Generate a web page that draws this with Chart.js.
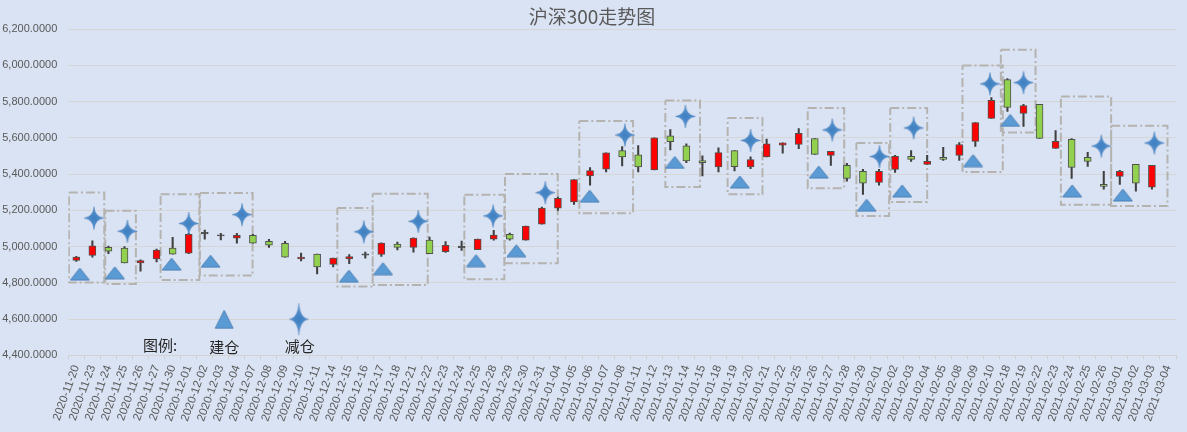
<!DOCTYPE html>
<html><head><meta charset="utf-8">
<script src="https://cdn.jsdelivr.net/npm/chart.js@4.4.0/dist/chart.umd.min.js"></script>
<style>html,body{margin:0;padding:0;background:#dae3f3;}#wrap{width:1187px;height:432px;}</style>
</head><body><div id="wrap"><canvas id="c" width="1187" height="432"></canvas></div>
<script>
const chartTitle = '沪深300走势图';
const dates = ['2020-11-20','2020-11-23','2020-11-24','2020-11-25','2020-11-26','2020-11-27','2020-11-30','2020-12-01','2020-12-02','2020-12-03','2020-12-04','2020-12-07','2020-12-08','2020-12-09','2020-12-10','2020-12-11','2020-12-14','2020-12-15','2020-12-16','2020-12-17','2020-12-18','2020-12-21','2020-12-22','2020-12-23','2020-12-24','2020-12-25','2020-12-28','2020-12-29','2020-12-30','2020-12-31','2021-01-04','2021-01-05','2021-01-06','2021-01-07','2021-01-08','2021-01-11','2021-01-12','2021-01-13','2021-01-14','2021-01-15','2021-01-18','2021-01-19','2021-01-20','2021-01-21','2021-01-22','2021-01-25','2021-01-26','2021-01-27','2021-01-28','2021-01-29','2021-02-01','2021-02-02','2021-02-03','2021-02-04','2021-02-05','2021-02-08','2021-02-09','2021-02-10','2021-02-18','2021-02-19','2021-02-22','2021-02-23','2021-02-24','2021-02-25','2021-02-26','2021-03-01','2021-03-02','2021-03-03','2021-03-04'];
const openP  = [4924,4951,4996,4991,4909,4931,4991,4964,5070,5064,5046,5062,5029,5018,4931,4958,4902,4931,4952,4956,5013,4995,5035,4972,4994,4983,5041,5068,5035,5124,5212,5246,5389,5427,5529,5506,5422,5611,5556,5474,5439,5529,5439,5494,5559,5563,5596,5503,5448,5415,5354,5426,5497,5453,5492,5503,5580,5707,5921,5734,5784,5541,5591,5492,5343,5387,5453,5327,null];
const highP  = [4946,5031,5002,5000,4927,4986,5051,5073,5091,5073,5073,5067,5040,5029,4964,4958,4936,4955,4969,5020,5024,5048,5052,5028,5030,5041,5089,5074,5113,5218,5273,5369,5435,5517,5552,5557,5600,5645,5567,5501,5545,5529,5495,5593,5572,5651,5596,5525,5459,5426,5426,5503,5530,5503,5547,5574,5684,5822,5927,5784,5784,5640,5596,5519,5415,5420,5453,5448,null];
const lowP   = [4918,4942,4960,4909,4864,4915,4958,4960,5040,5036,5018,5018,4995,4942,4920,4849,4887,4906,4936,4946,4982,4969,4961,4967,4978,4983,5035,5035,5035,5124,5199,5233,5338,5412,5445,5412,5422,5533,5462,5389,5412,5417,5429,5494,5515,5540,5508,5448,5360,5288,5338,5409,5470,5453,5475,5475,5552,5707,5745,5662,5596,5541,5376,5442,5316,5343,5305,5316,null];
const closeP = [4942,5004,4975,4909,4922,4980,4958,5067,5078,5058,5062,5018,5007,4942,4942,4887,4936,4944,4960,5019,4995,5046,4961,5007,5002,5041,5063,5041,5113,5212,5266,5369,5419,5517,5495,5439,5600,5578,5472,5462,5518,5440,5480,5567,5572,5624,5508,5525,5376,5349,5415,5497,5481,5470,5481,5563,5684,5806,5767,5778,5596,5580,5437,5470,5332,5415,5349,5448,null];
// 建仓 markers (position on day axis, price)
const buyX = [0.22,2.40,5.94,8.36,16.98,19.10,24.90,27.41,31.98,37.28,41.33,46.25,49.23,51.44,55.86,58.17,62.03,65.19];
const buyY = [4848,4855,4903,4919,4837,4878,4922,4977,5278,5464,5356,5411,5228,5307,5474,5696,5307,5284];
// 减仓 markers
const sellX = [1.10,3.18,7.00,10.32,17.91,21.30,25.96,29.21,34.17,37.94,42.00,47.09,50.03,52.16,56.91,59.00,63.85,67.15];
const sellY = [5157,5084,5127,5176,5081,5139,5169,5297,5615,5718,5585,5643,5496,5654,5897,5904,5554,5571];
// holding-period boxes (day axis range, price range)
const boxLeft   = [-0.46,1.80,5.25,7.70,16.26,18.46,24.17,26.70,31.33,36.69,40.57,45.56,48.59,50.70,55.20,57.59,61.33,64.46];
const boxRight  = [1.74,3.71,7.66,10.98,18.46,21.89,26.66,29.99,34.68,38.85,42.74,47.83,50.63,53.00,57.71,59.75,64.46,67.97];
const boxTop    = [5298,5197,5289,5295,5212,5291,5285,5400,5692,5806,5709,5764,5571,5764,5998,6086,5828,5666];
const boxBottom = [4801,4794,4816,4840,4779,4788,4820,4908,5184,5328,5289,5322,5169,5245,5411,5629,5230,5224];
// legend sample markers
const legendLabels = ['图例:','建仓','减仓'];
const legendX = [5.21,9.21,13.86];
const legendY = [4598,4598,4599];
const yMin = 4400, yMax = 6200, yStep = 200;

function makeTri(w,h){
  const c=document.createElement('canvas'); c.width=w+2; c.height=h+2;
  const g=c.getContext('2d');
  g.beginPath(); g.moveTo(1+w/2,1); g.lineTo(1+w,1+h); g.lineTo(1,1+h); g.closePath();
  g.fillStyle='#5b9bd5'; g.fill(); g.lineWidth=1; g.strokeStyle='#4a7fb5'; g.stroke();
  return c;
}
function makeStar(w,h){
  const c=document.createElement('canvas'); c.width=w+2; c.height=h+2;
  const g=c.getContext('2d'); const cx=(w+2)/2, cy=(h+2)/2, a=w/2, b=h/2, k=0.09;
  g.beginPath();
  g.moveTo(cx,cy-b);
  g.quadraticCurveTo(cx+a*k,cy-b*k,cx+a,cy);
  g.quadraticCurveTo(cx+a*k,cy+b*k,cx,cy+b);
  g.quadraticCurveTo(cx-a*k,cy+b*k,cx-a,cy);
  g.quadraticCurveTo(cx-a*k,cy-b*k,cx,cy-b);
  g.closePath();
  const gr=g.createRadialGradient(cx,cy,0,cx,cy,Math.max(a,b));
  gr.addColorStop(0,'#3f7fc0'); gr.addColorStop(1,'#5d9ad6');
  g.fillStyle=gr; g.fill();
  g.strokeStyle='rgba(60,110,170,0.6)'; g.lineWidth=0.6; g.stroke();
  return c;
}
const triImg = makeTri(19,12), starImg = makeStar(20,23);
const legTri = makeTri(18,18), legStar = makeStar(19,32);

const bodyColors = openP.map((o,i)=> o==null ? 'rgba(0,0,0,0)' :
  (Math.abs(closeP[i]-o) < 10 ? '#404040' : (closeP[i] >= o ? '#ff0000' : '#92d050')));

const boxPts = [];
boxLeft.forEach((l,k)=>{
  const r=boxRight[k], t=boxTop[k], b=boxBottom[k];
  boxPts.push({x:l,y:t},{x:r,y:t},{x:r,y:b},{x:l,y:b},{x:l,y:t},{x:l,y:null});
});

const textPlugin = {
  id:'texts',
  afterDraw(chart){
    const ctx=chart.ctx, sx=chart.scales.x2, sy=chart.scales.y;
    ctx.save();
    ctx.fillStyle='#595959';
    ctx.font='19px "Noto Sans CJK SC", "Noto Sans", sans-serif';
    ctx.textAlign='center'; ctx.textBaseline='middle';
    ctx.fillText(chartTitle, 592, 17);
    ctx.fillStyle='#262626';
    ctx.font='15px "Noto Sans CJK SC", sans-serif';
    legendLabels.forEach((t,i)=>{
      const px=sx.getPixelForValue(legendX[i]), py=sy.getPixelForValue(legendY[i]);
      ctx.fillText(t, px+(i===2?1:0), py + (i===0 ? 26 : 27.5));
    });
    ctx.restore();
  }
};

new Chart(document.getElementById('c'), {
  type:'bar',
  data:{
    labels: dates,
    datasets:[
      { label:'boxes', type:'line', xAxisID:'x2', yAxisID:'y', data: boxPts, order:5,
        borderColor:'#b5b3b0', borderWidth:2, borderDash:[9,3,2,3], pointRadius:0, fill:false, spanGaps:false, tension:0 },
      { label:'wick', data: openP.map((o,i)=> o==null?null:[lowP[i],highP[i]]), order:3, grouped:false,
        backgroundColor:'#404040', borderWidth:0, barThickness:1.4 },
      { label:'body', data: openP.map((o,i)=> o==null?null:[o,closeP[i]]), order:2, grouped:false,
        backgroundColor: bodyColors, borderColor:'#505050', borderWidth:1, borderSkipped:false, barThickness:7 },
      { label:'建仓', type:'line', xAxisID:'x2', yAxisID:'y', showLine:false, order:1,
        data: buyX.map((x,i)=>({x, y:buyY[i]})), pointStyle: triImg, pointRadius:10 },
      { label:'减仓', type:'line', xAxisID:'x2', yAxisID:'y', showLine:false, order:0,
        data: sellX.map((x,i)=>({x, y:sellY[i]})), pointStyle: starImg, pointRadius:10 },
      { label:'legend', type:'line', xAxisID:'x2', yAxisID:'y', showLine:false, order:0,
        data: [{x:legendX[1],y:legendY[1]},{x:legendX[2],y:legendY[2]}], pointStyle:[legTri, legStar], pointRadius:10 }
    ]
  },
  options:{
    responsive:false, animation:false, devicePixelRatio:1,
    layout:{ padding:{ top:29, right:11, left:0, bottom:0 } },
    plugins:{ legend:{display:false}, tooltip:{enabled:false}, title:{display:false} },
    scales:{
      x:{ type:'category', offset:true,
        grid:{ display:true, drawOnChartArea:false, drawTicks:true, tickLength:4, color:'#cfcfcf', offset:true },
        border:{ display:true, color:'#d3d3d3' },
        ticks:{ autoSkip:false, minRotation:70, maxRotation:70, padding:4, color:'#595959',
          font:{ family:'"Liberation Sans", Arial, sans-serif', size:11.5 } },
        afterFit(s){ s.height = 76.7; }
      },
      x2:{ type:'linear', display:false, offset:false, grid:{offset:false}, min:-0.5, max:dates.length-0.5 },
      y:{ type:'linear', min:yMin, max:yMax,
        grid:{ color:'#d6d6d6', drawTicks:false },
        border:{ display:false },
        ticks:{ stepSize:yStep, padding:11, color:'#595959',
          font:{ family:'"Liberation Sans", Arial, sans-serif', size:11 },
          callback:v=>v.toLocaleString('en-US',{minimumFractionDigits:4,maximumFractionDigits:4}) },
        afterFit(s){ s.width = 68.3; }
      }
    }
  },
  plugins:[textPlugin]
});
</script></body></html>
